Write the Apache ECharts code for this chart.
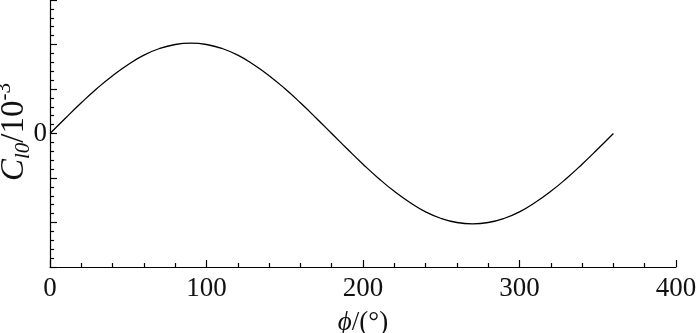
<!DOCTYPE html>
<html>
<head>
<meta charset="utf-8">
<script src="https://cdn.jsdelivr.net/npm/echarts@6/dist/echarts.min.js"></script>
<style>
html,body{margin:0;padding:0;background:#fff;}
#chart{width:700px;height:333px;}
</style>
</head>
<body>
<div id="chart"></div>
<script>
// phase angle (degrees)
var phi = [0,10,20,30,40,50,60,70,80,90,100,110,120,130,140,150,160,170,180,
           190,200,210,220,230,240,250,260,270,280,290,300,310,320,330,340,350,360];
// C_l0 values (x10^-3)
var cl0 = [0,0.35,0.69,1.01,1.30,1.55,1.76,1.91,2.00,2.03,2.00,1.91,1.76,1.55,1.30,1.01,0.69,0.35,0,
           -0.35,-0.69,-1.01,-1.30,-1.55,-1.76,-1.91,-2.00,-2.03,-2.00,-1.91,-1.76,-1.55,-1.30,-1.01,-0.69,-0.35,0];
var xTicks = [0,100,200,300,400];
var yLabelShown = [0];

var FONT = '"Liberation Serif","DejaVu Serif",serif';
var chart = echarts.init(document.getElementById('chart'));
chart.setOption({
  animation:false,
  grid:{left:50,right:24,top:0,bottom:66,containLabel:false,outerBoundsMode:'none'},
  xAxis:{
    type:'value',min:xTicks[0],max:xTicks[xTicks.length-1],interval:100,
    axisLine:{onZero:false,lineStyle:{color:'#000',width:1.2}},
    axisTick:{inside:true,length:7,lineStyle:{color:'#000',width:1.2}},
    minorTick:{show:true,splitNumber:5,length:4,lineStyle:{color:'#000',width:1.2}},
    splitLine:{show:false},
    axisLabel:{color:'#111',fontFamily:FONT,fontSize:27,margin:8},
    name:'{i|ϕ}/(°)',nameLocation:'middle',nameGap:42,nameMoveOverlap:false,
    nameTextStyle:{color:'#111',fontFamily:FONT,fontSize:27,
      rich:{i:{fontFamily:FONT,fontSize:27,fontStyle:'italic',color:'#111'}}}
  },
  yAxis:{
    type:'value',min:-3,max:3,interval:1,
    axisLine:{show:true,onZero:false,lineStyle:{color:'#000',width:1.2}},
    axisTick:{show:true,inside:true,length:7,lineStyle:{color:'#000',width:1.2}},
    minorTick:{show:true,splitNumber:5,length:4,lineStyle:{color:'#000',width:1.2}},
    splitLine:{show:false},
    axisLabel:{color:'#111',fontFamily:FONT,fontSize:27,margin:3,
      formatter:function(v){return yLabelShown.indexOf(v)>=0?String(v):'';}}
  },
  graphic:[{
    type:'text',x:14,y:132,rotation:Math.PI/2,
    style:{
      text:'{c|C}{s|l0}{n|/10}{p|-3}',
      align:'center',verticalAlign:'middle',
      fontFamily:FONT,fill:'#111',
      rich:{
        c:{fontFamily:FONT,fontSize:33,fontStyle:'italic',fill:'#111',lineHeight:40,verticalAlign:'middle'},
        s:{fontFamily:FONT,fontSize:21,fontStyle:'italic',fill:'#111',lineHeight:40,verticalAlign:'bottom'},
        n:{fontFamily:FONT,fontSize:33,fill:'#111',lineHeight:40,verticalAlign:'middle'},
        p:{fontFamily:FONT,fontSize:21,fill:'#111',lineHeight:40,verticalAlign:'top'}
      }
    }
  }],
  series:[{
    type:'line',data:phi.map(function(x,i){return [x,cl0[i]];}),
    smooth:true,showSymbol:false,
    lineStyle:{color:'#000',width:1.3}
  }]
});
</script>
</body>
</html>
